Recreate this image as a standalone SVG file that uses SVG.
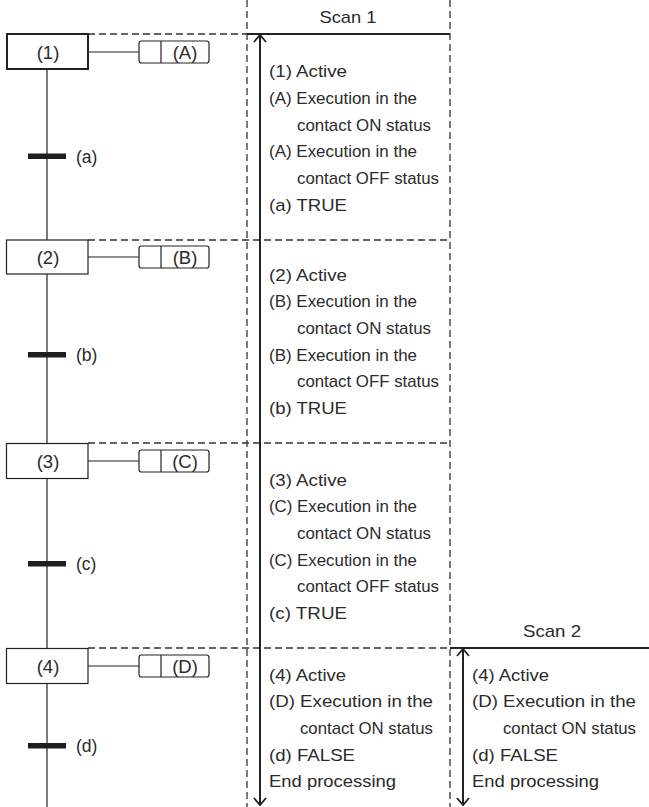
<svg xmlns="http://www.w3.org/2000/svg" width="649" height="807" viewBox="0 0 649 807">
<style>
  text { font-family: "Liberation Sans", Arial, sans-serif; font-size: 17px; fill: #2b2b2b; }
  .mid { text-anchor: middle; }
  .lbl { font-size: 18.5px; }
  .tl { font-size: 17.5px; }
  .dash { stroke: #333; stroke-width: 1.3; stroke-dasharray: 7 4; fill: none; }
  .line { stroke: #222; stroke-width: 1.2; fill: none; }
  .thick { stroke: #222; stroke-width: 2; fill: none; }
  .head { stroke: #222; stroke-width: 1.8; fill: none; }
  .step { fill: #fff; stroke: #222; stroke-width: 1.2; }
  .act { fill: #fff; stroke: #222; stroke-width: 1.2; }
  .bar { fill: #1e1e1e; }
</style>

<!-- guides -->
<g id="guides">
  <line class="dash" x1="247" y1="0" x2="247" y2="807"/>
  <line class="dash" x1="450" y1="0" x2="450" y2="807"/>
  <line class="dash" x1="88" y1="34" x2="247" y2="34"/>
  <line class="dash" x1="88" y1="240" x2="450" y2="240"/>
  <line class="dash" x1="88" y1="443" x2="450" y2="443"/>
  <line class="dash" x1="88" y1="648" x2="450" y2="648"/>
  <line class="thick" x1="247" y1="34" x2="450" y2="34"/>
  <line class="thick" x1="450" y1="648" x2="649" y2="648"/>
</g>

<!-- connectors -->
<g id="connectors">
  <line class="line" x1="47" y1="69" x2="47" y2="807"/>
  <line class="line" x1="88" y1="52" x2="139" y2="52"/>
  <line class="line" x1="88" y1="257" x2="139" y2="257"/>
  <line class="line" x1="88" y1="461" x2="139" y2="461"/>
  <line class="line" x1="88" y1="666" x2="139" y2="666"/>
  <line class="thick" x1="260" y1="35" x2="260" y2="805"/>
  <path class="head" d="M254,42 L260,35 L266,42"/>
  <path class="head" d="M254,798 L260,805 L266,798"/>
  <line class="thick" x1="463" y1="649" x2="463" y2="805"/>
  <path class="head" d="M457,656 L463,649 L469,656"/>
  <path class="head" d="M457,798 L463,805 L469,798"/>
</g>

<!-- steps -->
<g id="step1">
  <rect x="7" y="34" width="81" height="35" fill="#fff" stroke="#222" stroke-width="2"/>
  <text class="mid lbl" x="48" y="58.5">(1)</text>
</g>
<g id="action-A">
  <rect class="act" x="139" y="41" width="70" height="22" rx="2.5"/>
  <line class="line" x1="161" y1="41" x2="161" y2="63"/>
  <text class="mid lbl" x="185" y="58.5">(A)</text>
</g>
<g id="step2">
  <rect class="step" x="6.5" y="240" width="81.5" height="34"/>
  <text class="mid lbl" x="48" y="263.5">(2)</text>
</g>
<g id="action-B">
  <rect class="act" x="139" y="246" width="70" height="22" rx="2.5"/>
  <line class="line" x1="161" y1="246" x2="161" y2="268"/>
  <text class="mid lbl" x="185" y="263.5">(B)</text>
</g>
<g id="step3">
  <rect class="step" x="6.5" y="443.5" width="81.5" height="35"/>
  <text class="mid lbl" x="48" y="467.5">(3)</text>
</g>
<g id="action-C">
  <rect class="act" x="139" y="450" width="70" height="22" rx="2.5"/>
  <line class="line" x1="161" y1="450" x2="161" y2="472"/>
  <text class="mid lbl" x="185" y="467.5">(C)</text>
</g>
<g id="step4">
  <rect class="step" x="6.5" y="648.5" width="81.5" height="35"/>
  <text class="mid lbl" x="48" y="672.5">(4)</text>
</g>
<g id="action-D">
  <rect class="act" x="139" y="655" width="70" height="22" rx="2.5"/>
  <line class="line" x1="161" y1="655" x2="161" y2="677"/>
  <text class="mid lbl" x="185" y="672.5">(D)</text>
</g>

<!-- transitions -->
<g id="trans-a">
  <rect class="bar" x="28" y="153.5" width="38" height="5.5"/>
  <text class="tl" x="76" y="162.5">(a)</text>
</g>
<g id="trans-b">
  <rect class="bar" x="28" y="352" width="38" height="5.5"/>
  <text class="tl" x="76" y="361">(b)</text>
</g>
<g id="trans-c">
  <rect class="bar" x="28" y="561" width="38" height="5.5"/>
  <text class="tl" x="76" y="570">(c)</text>
</g>
<g id="trans-d">
  <rect class="bar" x="28" y="743" width="38" height="5.5"/>
  <text class="tl" x="76" y="752">(d)</text>
</g>

<!-- scan labels -->
<g id="scan1-label"><text class="mid" x="348" y="23" textLength="57" lengthAdjust="spacingAndGlyphs">Scan 1</text></g>
<g id="scan2-label"><text class="mid" x="552" y="637" textLength="58" lengthAdjust="spacingAndGlyphs">Scan 2</text></g>

<!-- scan 1 descriptions -->
<g id="desc-1">
  <text x="269" y="77.2" textLength="78" lengthAdjust="spacingAndGlyphs">(1) Active</text>
  <text x="269" y="103.9" textLength="148" lengthAdjust="spacingAndGlyphs">(A) Execution in the</text>
  <text x="297" y="130.6" textLength="134" lengthAdjust="spacingAndGlyphs">contact ON status</text>
  <text x="269" y="157.3" textLength="148" lengthAdjust="spacingAndGlyphs">(A) Execution in the</text>
  <text x="297" y="184" textLength="142" lengthAdjust="spacingAndGlyphs">contact OFF status</text>
  <text x="269" y="210.7" textLength="78" lengthAdjust="spacingAndGlyphs">(a) TRUE</text>
</g>
<g id="desc-2">
  <text x="269" y="280.5" textLength="78" lengthAdjust="spacingAndGlyphs">(2) Active</text>
  <text x="269" y="307.2" textLength="148" lengthAdjust="spacingAndGlyphs">(B) Execution in the</text>
  <text x="297" y="333.9" textLength="134" lengthAdjust="spacingAndGlyphs">contact ON status</text>
  <text x="269" y="360.6" textLength="148" lengthAdjust="spacingAndGlyphs">(B) Execution in the</text>
  <text x="297" y="387.3" textLength="142" lengthAdjust="spacingAndGlyphs">contact OFF status</text>
  <text x="269" y="414" textLength="78" lengthAdjust="spacingAndGlyphs">(b) TRUE</text>
</g>
<g id="desc-3">
  <text x="269" y="485.5" textLength="78" lengthAdjust="spacingAndGlyphs">(3) Active</text>
  <text x="269" y="512.2" textLength="148" lengthAdjust="spacingAndGlyphs">(C) Execution in the</text>
  <text x="297" y="538.9" textLength="134" lengthAdjust="spacingAndGlyphs">contact ON status</text>
  <text x="269" y="565.6" textLength="148" lengthAdjust="spacingAndGlyphs">(C) Execution in the</text>
  <text x="297" y="592.3" textLength="142" lengthAdjust="spacingAndGlyphs">contact OFF status</text>
  <text x="269" y="619" textLength="78" lengthAdjust="spacingAndGlyphs">(c) TRUE</text>
</g>
<g id="desc-4">
  <text x="269" y="680.5" textLength="77" lengthAdjust="spacingAndGlyphs">(4) Active</text>
  <text x="269" y="707.2" textLength="164" lengthAdjust="spacingAndGlyphs">(D) Execution in the</text>
  <text x="300" y="733.9" textLength="133" lengthAdjust="spacingAndGlyphs">contact ON status</text>
  <text x="269" y="760.6" textLength="86" lengthAdjust="spacingAndGlyphs">(d) FALSE</text>
  <text x="269" y="787" textLength="127" lengthAdjust="spacingAndGlyphs">End processing</text>
</g>
<!-- scan 2 descriptions -->
<g id="desc-scan2">
  <text x="472" y="680.5" textLength="77" lengthAdjust="spacingAndGlyphs">(4) Active</text>
  <text x="472" y="707.2" textLength="164" lengthAdjust="spacingAndGlyphs">(D) Execution in the</text>
  <text x="503" y="733.9" textLength="133" lengthAdjust="spacingAndGlyphs">contact ON status</text>
  <text x="472" y="760.6" textLength="86" lengthAdjust="spacingAndGlyphs">(d) FALSE</text>
  <text x="472" y="787" textLength="127" lengthAdjust="spacingAndGlyphs">End processing</text>
</g>
</svg>
